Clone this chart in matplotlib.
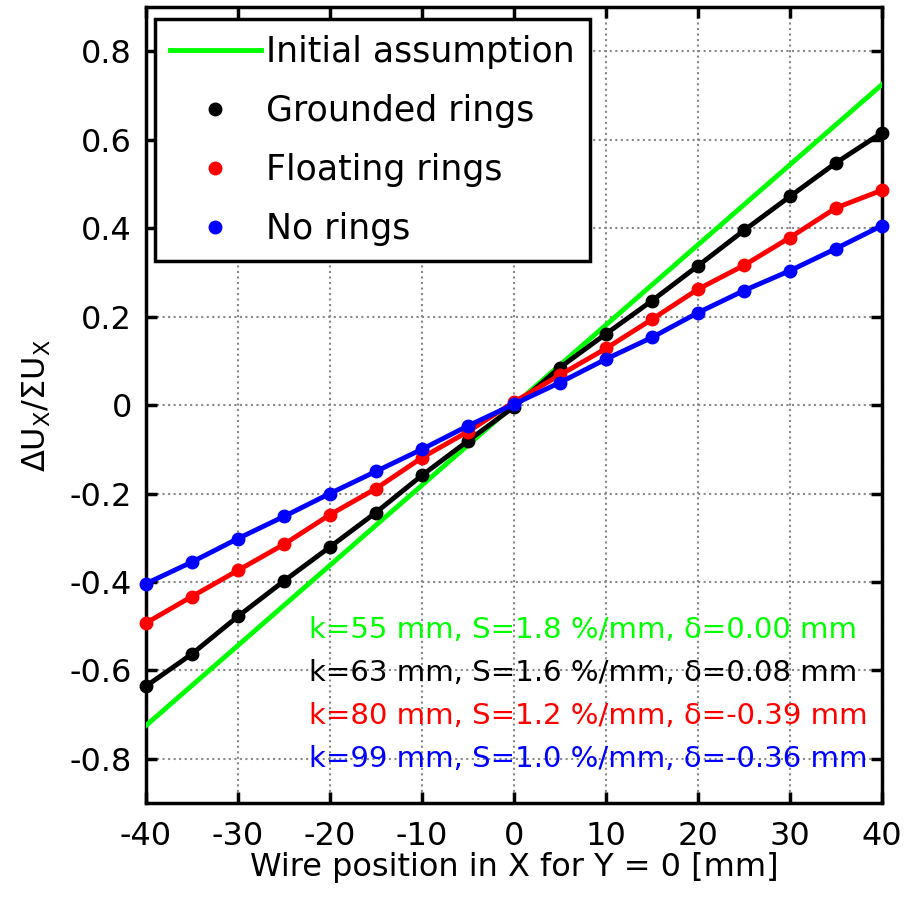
import matplotlib
matplotlib.use("Agg")
import matplotlib.pyplot as plt
from matplotlib.lines import Line2D

plt.rcParams['font.family'] = ['DejaVu Sans']

x_pos = [-40, -35, -30, -25, -20, -15, -10, -5, 0, 5, 10, 15, 20, 25, 30, 35, 40]
grounded = [-0.636, -0.563, -0.478, -0.398, -0.321, -0.243, -0.159, -0.081, -0.004,
            0.085, 0.161, 0.236, 0.315, 0.395, 0.472, 0.548, 0.616]
floating = [-0.493, -0.433, -0.374, -0.315, -0.248, -0.189, -0.119, -0.060, 0.007,
            0.068, 0.128, 0.194, 0.262, 0.316, 0.379, 0.446, 0.486]
no_rings = [-0.404, -0.355, -0.302, -0.252, -0.200, -0.150, -0.100, -0.047, 0.002,
            0.051, 0.104, 0.153, 0.209, 0.259, 0.304, 0.354, 0.406]
init_x = [-40, 40]
init_y = [-0.725, 0.725]

legend_labels = ["Initial assumption", "Grounded rings", "Floating rings", "No rings"]
fit_texts = ["k=55 mm, S=1.8 %/mm, δ=0.00 mm",
             "k=63 mm, S=1.6 %/mm, δ=0.08 mm",
             "k=80 mm, S=1.2 %/mm, δ=-0.39 mm",
             "k=99 mm, S=1.0 %/mm, δ=-0.36 mm"]
colors = ["#00ff00", "black", "red", "blue"]
x_ticks = [-40, -30, -20, -10, 0, 10, 20, 30, 40]
y_ticks = [-0.8, -0.6, -0.4, -0.2, 0, 0.2, 0.4, 0.6, 0.8]
y_ticklabels = ["-0.8", "-0.6", "-0.4", "-0.2", "0", "0.2", "0.4", "0.6", "0.8"]

fig = plt.figure(figsize=(9.06, 8.97), dpi=100)
ax = fig.add_axes([0.161, 0.1048, 0.8125, 0.8872])

ax.plot(init_x, init_y, color=colors[0], lw=3.5, zorder=3)
for ys, c in zip([grounded, floating, no_rings], colors[1:]):
    ax.plot(x_pos, ys, color=c, lw=3.5, marker='o', markersize=9, zorder=4, clip_on=False)

ax.set_xlim(-40, 40)
ax.set_ylim(-0.9, 0.9)
ax.set_xticks(x_ticks)
ax.set_xticklabels([str(v) for v in x_ticks])
ax.set_yticks(y_ticks)
ax.set_yticklabels(y_ticklabels)
ax.tick_params(axis='both', direction='in', length=8, width=2.5, labelsize=23, top=True, right=True)
ax.tick_params(axis='x', pad=13)
ax.tick_params(axis='y', pad=10)
for s in ax.spines.values():
    s.set_linewidth(2.5)
ax.grid(True, linestyle=':', color='#888888', linewidth=1.5)

ax.set_xlabel("Wire position in X for Y = 0 [mm]", fontsize=23, labelpad=0)
ax.set_ylabel(r"$\Delta$U$_\mathrm{X}$/$\Sigma$U$_\mathrm{X}$", fontsize=23, labelpad=12)

handles = [Line2D([], [], color=colors[0], lw=3.5)] + \
          [Line2D([], [], color=c, lw=0, marker='o', markersize=9) for c in colors[1:]]
leg = ax.legend(handles, legend_labels, loc='upper left', fontsize=25, fancybox=False,
                framealpha=1, edgecolor='black', handlelength=2.6, handletextpad=0.15,
                labelspacing=0.72, borderpad=0.45, borderaxespad=0.0,
                bbox_to_anchor=(0.012, 0.985))
leg.get_frame().set_linewidth(2.5)

y0 = 0.217
for i, (t, c) in enumerate(zip(fit_texts, colors)):
    ax.text(0.222, y0 - i * 0.054, t, color=c, fontsize=21, transform=ax.transAxes,
            ha='left', va='center', zorder=6)

fig.savefig("out.png", dpi=100)
